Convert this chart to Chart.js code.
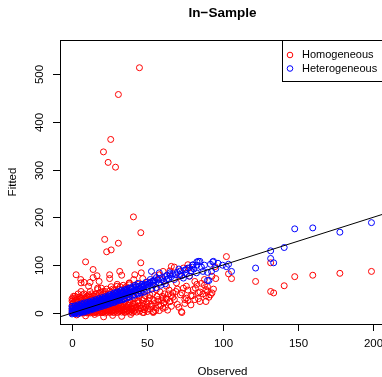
<!DOCTYPE html>
<html>
<head>
<meta charset="utf-8">
<script src="https://cdn.jsdelivr.net/npm/chart.js@4"></script>
<style>
  html, body { margin: 0; padding: 0; background: #fff; overflow: hidden; }
  #wrap { width: 400px; height: 377px; }
</style>
</head>
<body>
<div id="wrap"><canvas id="fitChart" width="400" height="377"></canvas></div>
<script>
// Observed vs fitted
const homogeneous = [
  [44.8,513],[30.8,457],[25.7,363],[20.9,337],[24,315],[28.9,305],[40.8,201],[45.7,168],[21.7,154],[30.8,146],
  [23,128],[26,132],[9,107],[45.7,105],[14,91],[2.7,80],[5.8,70],[8,64],[11,56],[16.6,78],[25,80],[25,72],
  [33,79],[30,56],[19.5,52],[17,49],[12,45],[12,64],[1,22],[6,63],[14,74],[18,66],[38,59],[17,52],[20.6,45],
  [29.5,42],[35,49],[0.7,21],
  [68,96],[95,97],[102.6,118],[104,82],[106,72],[95.5,72],[93,77],[122,66],[132,105],[148,76],[160,79],
  [178,83],[199,87],[141,57],[132,45],[134,42],[90,45],[92,38],[94,50],[91,33],[93,42],[89,36],
  [41.7,80],[46,84],[31.7,87],[60.5,87],[66,97.5],[74,94],[77,101],[78,94],[58,80],[54,66],[38,63],[42.8,56],
  [35,49],[48,45],[67,42],[60.5,31],[65,24],[76,31],[80.5,49],[84,42],[89,49],[79,17],[72.7,3],[54,3],[48,7],
  [43.9,21],[39.5,14],[34,17],[69.4,63],[71.6,77],[78,77],[81.6,66],[62.8,56],[56,49],[51.7,38],[57,24],
  [66,14],[76,56],[85,24],[89,24],[47.7,1],[54,1],[73,1],[61,21],[77,26],[81.6,28],
  [0,0],[0,8],[0,15],[1,2],[1,12],[1,20],[2,0],[2,5],[2,16],[3,3],[3,10],[3,22],[4,0],[4,6],[4,14],[5,1],
  [5,4],[5,18],[6,0],[6,3],[6,10],[6,25],[7,1],[7,6],[7,16],[8,0],[8,3],[8,8],[8,20],[9,1],[9,5],[9,12],
  [10,0],[10,3],[10,7],[10,24],[11,1],[11,5],[11,10],[11,18],[12,0],[12,3],[12,8],[12,28],[13,2],[13,6],
  [13,12],[14,0],[14,4],[14,9],[14,22],[15,1],[15,6],[15,11],[16,3],[16,8],[16,30],[17,0],[17,5],[17,13],
  [18,2],[18,7],[18,10],[19,4],[19,9],[19,26],[20,1],[20,6],[20,12],[21,3],[21,8],[21,15],[22,0],[22,5],
  [22,10],[23,2],[23,7],[23,14],[24,4],[24,9],[24,17],[25,1],[25,6],[25,12],[26,3],[26,8],[26,19],[27,5],
  [27,10],[27,15],[28,2],[28,7],[28,13],[29,4],[29,9],[29,20],[30,1],[30,6],[30,12],[31,3],[31,8],[31,16],
  [32,5],[32,10],[32,22],[33,2],[33,7],[33,14],[34,4],[34,11],[35,1],[35,6],[35,18],[36,3],[36,9],[36,14],
  [37,5],[37,12],[38,2],[38,8],[38,20],[39,4],[39,11],[40,1],[40,7],[40,15],[41,3],[41,10],[42,6],[42,18],
  [43,2],[43,12],[44,8],[44,25],[45,4],[45,15],[46,10],[47,1],[47,20],[48,7],[48,30],[49,12],[50,3],[50,18],
  [51,25],[52,8],[53,14],[54,3],[55,20],[56,10],[57,28],[58,5],[59,16],[60,35],[61,21],[62,12],[63,28],
  [64,40],[65,24],[67,33],[69,45],[70,18],[72,38],[74,52],[75,28],[79,36],[83,60],[85,44],[86,62],[88,70],
  [90,55],[0,25],[1,30],[2,35],[3,28],[4,40],[5,33],[6,45],[7,38],[8,30],[10,35],[13,40],[15,35],[18,42],
  [20,38],[22,45],[24,40],[27,50],[29,44],[32,55],[35,52],[38,62],[41,70],[44,60],[47,72],[50,65],[55,78],
  [60,70],[65,88],[3,-4],[9,-6],[15,-3],[21,-8],[27,-5],[33,-7],[39,-3],
  [15.5,3],[16.5,15],[17.5,9],[18.5,18],[19.5,1],[20.5,17],[21.5,11],[22.5,20],[23.5,4],[24.5,22],[25.5,15],
  [26.5,24],[27.5,1],[28.5,18],[29.5,26],[30.5,9],[31.5,22],[32.5,15],[33.5,28],[34.5,8],[35.5,24],[36.5,30],
  [37.5,17],[38.5,27],[39.5,7],[40.5,20],[41.5,30],[42.5,12],[43.5,26],[44.5,35],[45.5,9],[46.5,28],[47.5,14],
  [48.5,36],[49.5,22],[50.5,8],[51.5,32],[52.5,18],[53.5,40],[54.5,26],[55.5,5],[56.5,35],[57.5,16],[58.5,44],
  [59.5,26],[60.5,10],[61.5,40],[62.5,30],[63.5,6],[64.5,48],[66,36],[68,28],[70,50],[71,12],[73,42],[75,20],
  [77,48],[80,36],[82,52],[84,30],[87,40],[88,58],
  [0,30],[1,35],[2,26],[3,33],[4,24],[5,28],[6,32],[7,28],[8,40],[9,26],[9,33],[10,29],[11,38],[12,34],
  [13,30],[14,36],[16,40],[17,34],[19,44],[21,40],[23,50],[25,46],[26,55],[28,48],[30,60],[31,50],[34,58],[36,55]
];
const heterogeneous = [
  [0,2],[0,5],[1,0],[1,4],[1,8],[2,3],[2,6],[2,10],[3,1],[3,5],[3,8],[4,3],[4,7],[4,12],[5,2],[5,6],[5,10],
  [6,4],[6,8],[6,14],[7,5],[7,9],[7,12],[8,6],[8,10],[8,15],[9,7],[9,11],[9,14],[10,8],[10,12],[10,17],
  [11,9],[11,13],[12,10],[12,14],[12,19],[13,11],[13,15],[14,12],[14,16],[14,21],[15,13],[15,18],[16,14],
  [16,19],[16,23],[17,15],[17,20],[18,16],[18,21],[18,25],[19,17],[19,22],[20,18],[20,23],[20,28],[21,19],
  [21,25],[22,20],[22,26],[22,30],[23,21],[23,27],[24,22],[24,28],[25,24],[25,30],[25,34],[26,25],[26,31],
  [27,26],[27,33],[28,27],[28,33],[28,38],[29,28],[29,35],[30,29],[30,36],[31,30],[31,37],[32,32],[32,39],
  [33,33],[33,41],[34,35],[34,42],[35,36],[36,38],[36,44],[37,40],[38,41],[38,47],[39,43],[40,44],[40,50],
  [41,45],[42,47],[43,48],[44,50],[45,52],[46,54],[47,55],[48,57],[49,59],[50,60],[51,62],[52,64],[53,66],
  [54,67],[55,69],[57,70],[58,72],[60,74],[62,76],[63,79],[65,80],[67,82],[70,85],[72,88],[75,90],[77,94],
  [80,96],[83,100],[85,108],[90,85],[90,68],[91,68],[92.7,87],[94,108],[95.5,93],[102.6,97],[104,102],
  [106,87],[122,94],[132,130],[132,114],[134,105],[141,137],[148,176],[160,178],[178,169],[199,189],
  [52.8,87],[58,84],[65,84],[71.6,80],[84,108],[80.5,101],[76,91],[74,73],[68,70],[62.8,70],[54,63],
  [48,59],[42.8,49],[37,45],[78,77],[82.7,84],[87,87],[83,107],[80,100],[93.5,107],
  [0.5,1],[1.5,6],[2.5,2],[3.5,11],[4.5,5],[5.5,13],[6.5,7],[7.5,3],[8.5,12],[9.5,17],[10.5,6],[11.5,16],
  [12.5,21],[13.5,9],[14.5,18],[15.5,24],[16.5,12],[17.5,22],[18.5,27],[19.5,14],[20.5,25],[21.5,30],[22.5,17],
  [23.5,26],[24.5,32],[25.5,20],[26.5,29],[27.5,36],[28.5,24],[29.5,32],[30.5,40],[31.5,27],[32.5,35],[33.5,44],
  [34.5,30],[35.5,40],[36.5,48],[37.5,34],[38.5,44],[39.5,52],[40.5,38],[41.5,48],[42.5,55],[43.5,42],[44.5,56],
  [45.5,46],[46.5,60],[47.5,50],[49,64],[50.5,54],[52,70],[54,58],[56,74],[58,62],[61,66],[64,72],[66,76],
  [69,80],[71,92],[73,78],[76,82],[79,88],[81,92],[86,96],[88,100],[92,102],[97,104],[100,100],
  [0,10],[0,14],[1,12],[2,15],[3,14],[4,17],[5,15],[6,19],[7,17],[8,21],[9,19],[10,22],[11,20],[12,24],
  [13,22],[14,26],[15,24],[16,28],[17,26],[18,30],[19,28],[20,32],[21,30],[22,34],[23,32],[24,36],[25,38],
  [26,36],[27,40],[28,42],[29,40],[30,44],[31,42],[32,46],[33,48],[35,46],[36,50],[38,52],[40,55],[42,58],
  [44,62],[0,-2],[2,-1],[4,-2],[6,1],[8,2],[10,4],[12,6],[14,8],[16,10],[18,12],[20,14],[22,16],[24,18],
  [26,21],[28,22],[30,25],[32,27],[34,28],[36,31],[38,33],[40,35],[42,38],[44,40],[46,42],[48,44],[50,47],
  [53,50],[56,53],[59,58],[62,61]
];
const lineX = [-30, 230];   // abline(0, 1)
const lineY = [-30, 230];
const xTicks = [0, 50, 100, 150, 200];
const yTicks = [0, 100, 200, 300, 400, 500];

const toPts = arr => arr.map(p => ({ x: p[0], y: p[1] }));

// R-style frame, axes, titles and legend
const rAxes = {
  id: 'rAxes',
  afterDraw(chart) {
    const c = chart.ctx, a = chart.chartArea;
    const sx = chart.scales.x, sy = chart.scales.y;
    c.save();
    c.strokeStyle = '#000';
    c.lineWidth = 1;
    c.strokeRect(a.left + 0.5, a.top + 0.5, a.right - a.left, a.bottom - a.top);

    c.fillStyle = '#000';
    c.font = '11.5px "Liberation Sans", Arial, sans-serif';
    c.textAlign = 'center';
    c.textBaseline = 'middle';
    xTicks.forEach(v => {
      const px = Math.round(sx.getPixelForValue(v)) + 0.5;
      c.beginPath(); c.moveTo(px, a.bottom); c.lineTo(px, a.bottom + 7); c.stroke();
      c.fillText(String(v), px, a.bottom + 20);
    });
    yTicks.forEach(v => {
      const py = Math.round(sy.getPixelForValue(v)) + 0.5;
      c.beginPath(); c.moveTo(a.left - 7, py); c.lineTo(a.left, py); c.stroke();
      c.save();
      c.translate(a.left - 20, py);
      c.rotate(-Math.PI / 2);
      c.fillText(String(v), 0, 0);
      c.restore();
    });

    const midX = (a.left + a.right) / 2;
    c.fillText('Observed', midX, 372);
    c.save();
    c.translate(13, (a.top + a.bottom) / 2);
    c.rotate(-Math.PI / 2);
    c.fillText('Fitted', 0, 0);
    c.restore();

    c.font = 'bold 13.5px "Liberation Sans", Arial, sans-serif';
    c.fillText('In\u2212Sample', midX, 13);

    // legend (top right, inside the box)
    c.fillStyle = '#fff';
    c.fillRect(282, a.top, a.right - 282, 41);
    c.strokeRect(282.5, a.top + 0.5, a.right - 282, 41);
    c.font = '11px "Liberation Sans", Arial, sans-serif';
    c.textAlign = 'left';
    [['Homogeneous', 'red', 55], ['Heterogeneous', 'blue', 68.5]].forEach(([t, col, y]) => {
      c.strokeStyle = col;
      c.beginPath(); c.arc(290, y, 2.8, 0, Math.PI * 2); c.stroke();
      c.fillStyle = '#000';
      c.fillText(t, 302, y);
    });
    c.restore();
  }
};

new Chart(document.getElementById('fitChart'), {
  type: 'scatter',
  data: {
    datasets: [
      {
        label: 'y = x',
        type: 'line',
        data: lineX.map((x, i) => ({ x: x, y: lineY[i] })),
        borderColor: '#000',
        borderWidth: 1,
        pointRadius: 0,
        fill: false
      },
      {
        label: 'Heterogeneous',
        data: toPts(heterogeneous),
        borderColor: 'blue',
        backgroundColor: 'rgba(0,0,0,0)',
        borderWidth: 1,
        pointRadius: 3
      },
      {
        label: 'Homogeneous',
        data: toPts(homogeneous),
        borderColor: 'red',
        backgroundColor: 'rgba(0,0,0,0)',
        borderWidth: 1,
        pointRadius: 3
      }
    ]
  },
  options: {
    responsive: false,
    animation: false,
    layout: { padding: { left: 60, right: 15, top: 40, bottom: 53 } },
    plugins: { legend: { display: false }, tooltip: { enabled: false } },
    scales: {
      x: { type: 'linear', display: false, min: -8, max: 208 },
      y: { type: 'linear', display: false, min: -23, max: 571 }
    }
  },
  plugins: [rAxes]
});
</script>
</body>
</html>
